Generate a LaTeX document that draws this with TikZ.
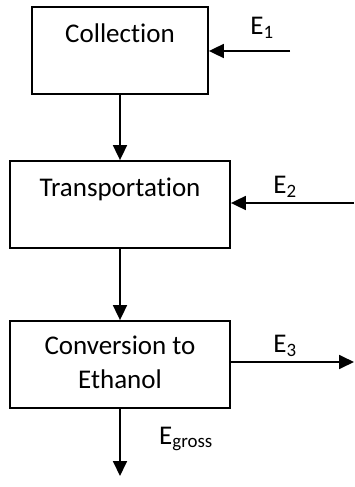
\documentclass[tikz,border=0pt]{standalone}
\usepackage{fontspec}
\setmainfont{Carlito}[Ligatures=NoCommon]
\usetikzlibrary{arrows.meta, positioning}

\begin{document}
\begin{tikzpicture}[
        x=1pt, y=-1pt,
        font=\fontsize{27}{34}\selectfont,
        stage/.style={draw, line width=1.8pt, minimum width=#1, minimum height=87pt, inner sep=0pt},
        flow/.style={line width=1.8pt, -{Triangle[length=15pt, width=14pt]}},
    ]
    \useasboundingbox (0, 0) rectangle (354, 487);

    \node[stage=176pt] (coll) at (120, 50.5) {};
    \node[stage=220pt] (trans) at (120, 204.5) {};
    \node[stage=220pt] (conv) at (120, 364.5) {};

    \node[below=14pt of coll.north] (colltext) {Collection};
    \node[below=14pt of trans.north] (transtext) {Transportation};
    \node[below=12pt of conv.north, align=center] (convtext) {Conversion to\\Ethanol};

    \coordinate (inone) at (290, 51);
    \coordinate (intwo) at (354, 203);
    \coordinate (outthree) at (354, 362);
    \coordinate (outgross) at (120, 476);

    \draw[flow] (inone) -- (coll.east |- inone);
    \draw[flow] (coll) -- (trans);
    \draw[flow] (intwo) -- (trans.east |- intwo);
    \draw[flow] (trans) -- (conv);
    \draw[flow] (conv.east |- outthree) -- (outthree);
    \draw[flow] (conv) -- (outgross);

    \node (eone) at (262, 28) {E\textsubscript{1}};
    \node (etwo) at (285, 187) {E\textsubscript{2}};
    \node (ethree) at (285, 346) {E\textsubscript{3}};
    \node (egross) at (186, 439) {E\textsubscript{gross}};
\end{tikzpicture}
\end{document}
